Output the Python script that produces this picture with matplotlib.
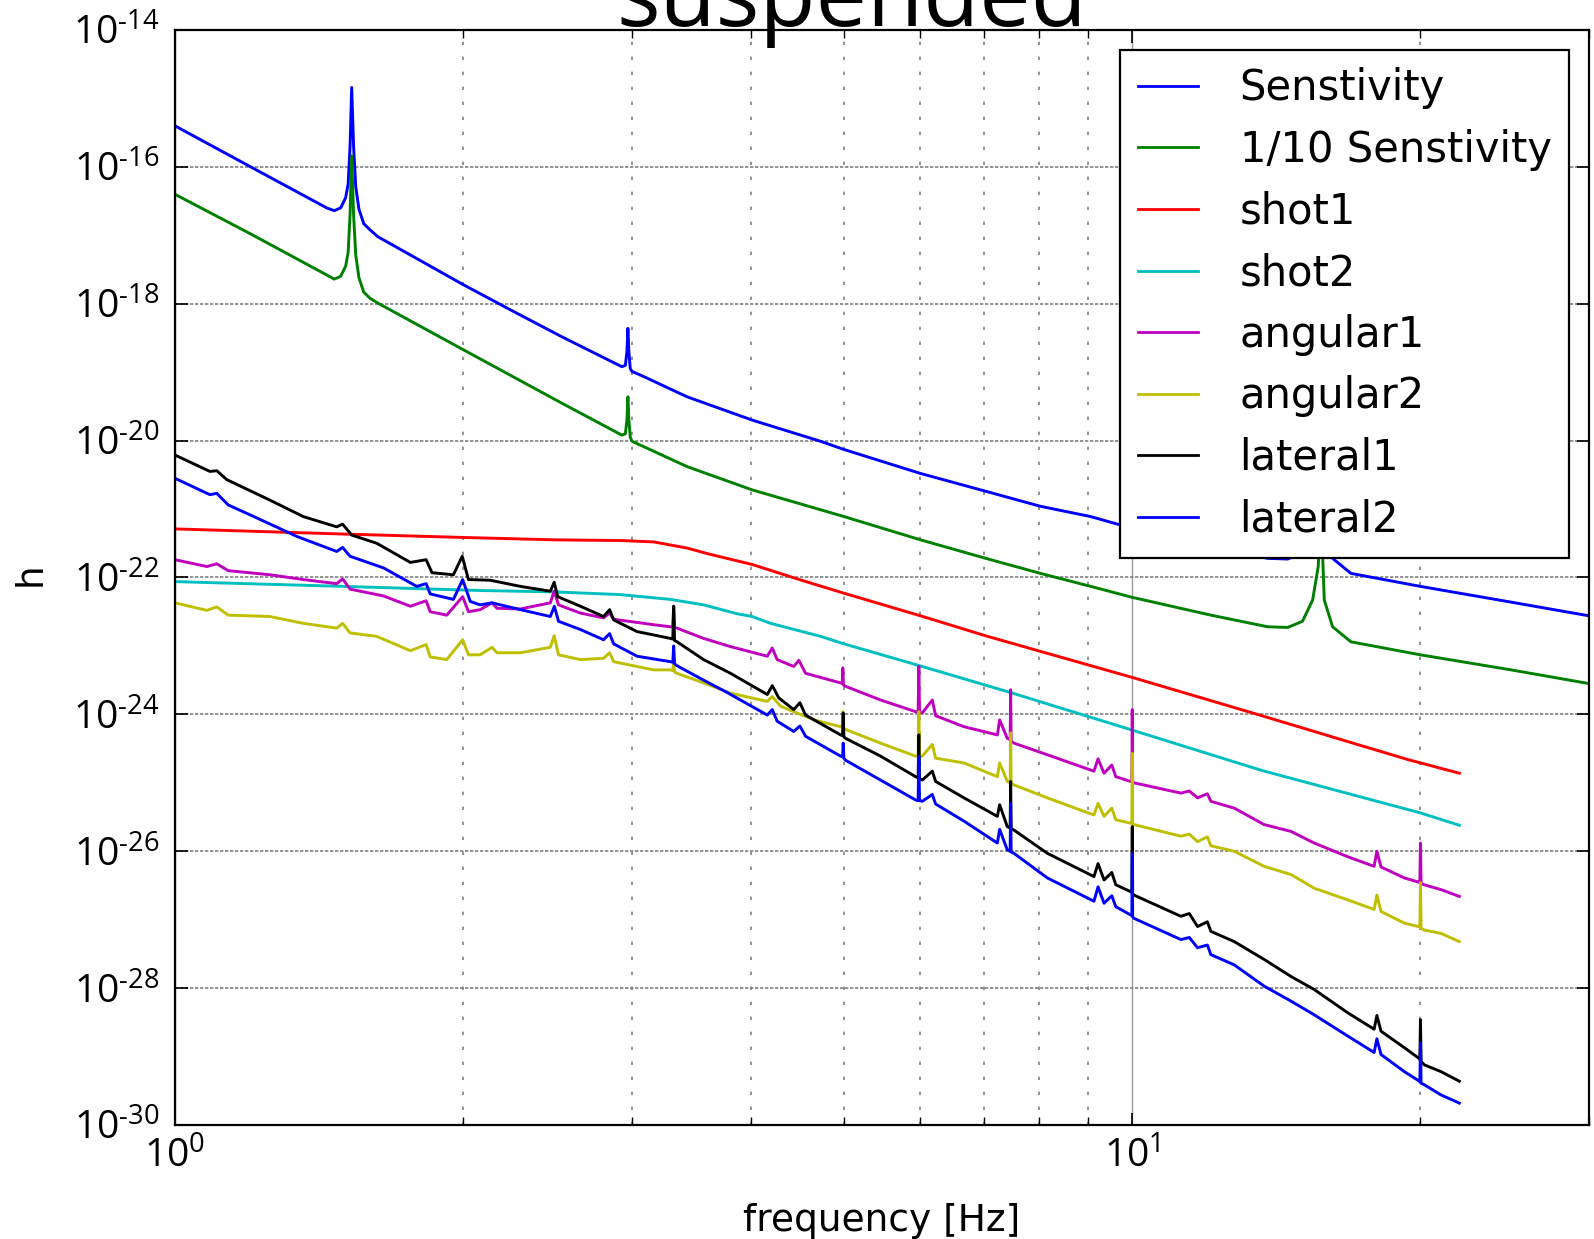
import numpy as np
import matplotlib
matplotlib.use("Agg")
import matplotlib.pyplot as plt
from matplotlib.ticker import LogLocator, NullFormatter, FixedLocator, FixedFormatter

# ---------------- data: (frequency [Hz], log10 h) ----------------
sensitivity = [(1.000,-15.40),(1.200,-16.00),(1.441,-16.60),(1.467,-16.64),(1.490,-16.60),(1.508,-16.45),
    (1.517,-16.25),(1.524,-15.70),(1.530,-14.84),(1.537,-15.70),(1.545,-16.29),(1.557,-16.62),(1.575,-16.83),
    (1.599,-16.92),(1.629,-17.02),(2.000,-17.72),(2.242,-18.09),(2.534,-18.48),(2.930,-18.92),(2.955,-18.90),
    (2.966,-18.70),(2.973,-18.36),(2.980,-18.70),(2.990,-18.95),(3.003,-18.99),(3.084,-19.06),(3.428,-19.36),
    (4.009,-19.70),(4.726,-20.01),(5.000,-20.13),(6.010,-20.48),(7.030,-20.74),(8.020,-20.96),(9.050,-21.11),
    (9.535,-21.20),(10.00,-21.28),(12.08,-21.55),(13.85,-21.72),(14.53,-21.73),(15.06,-21.64),(15.43,-21.33),
    (15.64,-20.84),(15.74,-20.00),(15.87,-21.33),(16.19,-21.72),(16.92,-21.94),(20.00,-22.13),(24.87,-22.36),
    (30.00,-22.56)]

tenth_sensitivity = [(1.000,-16.40),(1.200,-16.98),(1.441,-17.58),(1.467,-17.64),(1.490,-17.60),(1.508,-17.45),
    (1.517,-17.25),(1.524,-16.70),(1.530,-15.84),(1.537,-16.70),(1.545,-17.29),(1.557,-17.62),(1.575,-17.83),
    (1.599,-17.92),(1.629,-17.99),(2.000,-18.67),(2.534,-19.45),(2.930,-19.92),(2.955,-19.90),(2.966,-19.70),
    (2.973,-19.36),(2.980,-19.70),(2.990,-19.95),(3.003,-20.01),(3.428,-20.38),(4.009,-20.72),(5.000,-21.11),
    (6.010,-21.45),(7.030,-21.72),(8.020,-21.94),(9.050,-22.13),(10.00,-22.29),(12.08,-22.55),(13.85,-22.72),
    (14.53,-22.73),(15.06,-22.64),(15.43,-22.33),(15.64,-21.84),(15.74,-21.00),(15.87,-22.33),(16.19,-22.72),
    (16.92,-22.94),(20.00,-23.13),(24.87,-23.35),(30.00,-23.55)]

shot1 = [(1.0,-21.29),(1.5,-21.365),(2.0,-21.415),(2.5,-21.45),(2.92,-21.46),(3.163,-21.48),(3.428,-21.57),
    (3.62,-21.66),(4.009,-21.81),(4.49,-22.03),(5.0,-22.23),(6.01,-22.56),(7.06,-22.86),(10.0,-23.46),
    (13.66,-24.02),(17.0,-24.42),(19.4,-24.66),(21.96,-24.86)]

shot2 = [(1.0,-22.06),(1.5,-22.13),(2.084,-22.19),(2.488,-22.21),(2.92,-22.25),(3.293,-22.32),(3.567,-22.40),
    (3.867,-22.53),(4.009,-22.57),(4.19,-22.67),(4.726,-22.86),(5.0,-22.97),(6.0,-23.29),(7.5,-23.69),
    (10.0,-24.23),(13.66,-24.82),(20.0,-25.44),(21.96,-25.62)]

angular1 = [(1.000,-21.74),(1.080,-21.84),(1.106,-21.80),(1.137,-21.90),(1.257,-21.96),(1.362,-22.03),
    (1.476,-22.09),(1.497,-22.02),(1.524,-22.17),(1.652,-22.27),(1.762,-22.42),(1.830,-22.34),(1.848,-22.50),
    (1.923,-22.55),(1.998,-22.28),(2.026,-22.50),(2.084,-22.47),(2.144,-22.37),(2.170,-22.45),(2.296,-22.46),
    (2.467,-22.37),(2.490,-22.20),(2.516,-22.40),(2.652,-22.52),(2.804,-22.59),(2.845,-22.52),(2.873,-22.61),
    (3.163,-22.69),(3.293,-22.72),(3.312,-22.72),(3.319,-22.42),(3.326,-22.73),(3.346,-22.74),(3.567,-22.89),
    (3.805,-23.01),(4.157,-23.15),(4.207,-23.03),(4.257,-23.20),(4.430,-23.30),(4.485,-23.21),(4.558,-23.40),
    (4.958,-23.54),(4.978,-23.55),(4.985,-23.32),(4.993,-23.57),(5.018,-23.59),(5.459,-23.79),(5.938,-23.96),
    (5.975,-23.97),(5.985,-23.30),(5.995,-23.97),(6.035,-23.98),(6.182,-23.79),(6.232,-24.02),(6.672,-24.18),
    (7.229,-24.30),(7.269,-24.08),(7.404,-24.35),(7.455,-24.37),(7.464,-23.64),(7.473,-24.39),(7.523,-24.42),
    (8.153,-24.59),(9.120,-24.83),(9.210,-24.65),(9.344,-24.86),(9.519,-24.74),(9.612,-24.91),(9.960,-24.98),
    (9.990,-24.98),(10.00,-23.93),(10.01,-24.99),(10.04,-25.00),(11.24,-25.15),(11.47,-25.12),(11.70,-25.22),
    (11.98,-25.16),(12.08,-25.27),(12.78,-25.37),(13.73,-25.61),(14.65,-25.71),(15.49,-25.88),(16.79,-26.08),
    (17.89,-26.22),(18.01,-26.00),(18.19,-26.23),(19.24,-26.39),(19.90,-26.45),(19.97,-26.46),(20.00,-25.88),
    (20.03,-26.47),(20.18,-26.49),(21.01,-26.56),(21.96,-26.66)]

angular2 = [(1.000,-22.37),(1.080,-22.48),(1.106,-22.43),(1.137,-22.55),(1.257,-22.57),(1.362,-22.67),
    (1.476,-22.74),(1.497,-22.67),(1.524,-22.81),(1.625,-22.86),(1.762,-23.07),(1.830,-22.98),(1.848,-23.16),
    (1.923,-23.20),(1.998,-22.91),(2.026,-23.13),(2.084,-23.13),(2.144,-23.02),(2.170,-23.10),(2.296,-23.10),
    (2.467,-23.02),(2.490,-22.85),(2.516,-23.13),(2.652,-23.20),(2.804,-23.18),(2.845,-23.10),(2.873,-23.23),
    (3.163,-23.35),(3.293,-23.35),(3.312,-23.36),(3.319,-23.23),(3.326,-23.38),(3.346,-23.40),(3.567,-23.54),
    (3.805,-23.69),(4.157,-23.81),(4.207,-23.74),(4.292,-23.88),(4.430,-23.96),(4.650,-24.08),(4.958,-24.18),
    (4.978,-24.19),(4.985,-23.96),(4.993,-24.21),(5.018,-24.22),(5.459,-24.42),(5.938,-24.61),(5.975,-24.61),
    (5.985,-23.96),(5.995,-24.61),(6.035,-24.61),(6.182,-24.44),(6.232,-24.64),(6.672,-24.71),(7.229,-24.91),
    (7.269,-24.71),(7.404,-24.98),(7.455,-25.00),(7.464,-24.27),(7.473,-25.01),(7.523,-25.03),(8.153,-25.22),
    (9.120,-25.47),(9.210,-25.30),(9.344,-25.49),(9.519,-25.37),(9.612,-25.54),(9.960,-25.59),(9.990,-25.59),
    (10.00,-24.57),(10.01,-25.60),(10.04,-25.61),(11.24,-25.78),(11.47,-25.75),(11.70,-25.86),(11.98,-25.79),
    (12.08,-25.92),(12.78,-26.00),(13.73,-26.22),(14.65,-26.34),(15.49,-26.54),(16.79,-26.71),(17.89,-26.85),
    (18.01,-26.64),(18.19,-26.88),(19.24,-27.05),(19.90,-27.10),(19.97,-27.11),(20.00,-26.46),(20.03,-27.13),
    (20.18,-27.15),(21.01,-27.20),(21.96,-27.32)]

lateral1 = [(1.000,-20.21),(1.088,-20.45),(1.106,-20.44),(1.133,-20.57),(1.257,-20.87),(1.362,-21.11),
    (1.476,-21.26),(1.497,-21.22),(1.530,-21.38),(1.625,-21.50),(1.762,-21.78),(1.830,-21.74),(1.856,-21.93),
    (1.954,-21.96),(1.996,-21.69),(2.026,-22.03),(2.135,-22.04),(2.296,-22.13),(2.467,-22.20),(2.490,-22.07),
    (2.511,-22.28),(2.652,-22.42),(2.804,-22.57),(2.845,-22.47),(2.873,-22.62),(3.039,-22.79),(3.293,-22.89),
    (3.312,-22.90),(3.319,-22.42),(3.326,-22.92),(3.346,-22.94),(3.567,-23.20),(3.805,-23.40),(4.157,-23.71),
    (4.207,-23.58),(4.274,-23.76),(4.430,-23.93),(4.496,-23.83),(4.558,-24.01),(4.958,-24.30),(4.982,-24.31),
    (4.990,-23.98),(4.998,-24.33),(5.018,-24.35),(5.459,-24.61),(5.938,-24.91),(5.975,-24.93),(5.985,-24.30),
    (5.995,-24.94),(6.035,-24.96),(6.182,-24.83),(6.232,-24.98),(6.672,-25.22),(7.229,-25.49),(7.269,-25.32),
    (7.404,-25.64),(7.455,-25.66),(7.464,-24.98),(7.473,-25.67),(7.523,-25.69),(8.153,-26.03),(9.120,-26.37),
    (9.210,-26.18),(9.344,-26.42),(9.519,-26.31),(9.612,-26.49),(9.960,-26.59),(9.990,-26.60),(10.00,-25.64),
    (10.01,-26.62),(10.04,-26.64),(11.24,-26.95),(11.47,-26.91),(11.70,-27.10),(11.98,-27.03),(12.08,-27.17),
    (12.78,-27.32),(13.73,-27.58),(14.65,-27.83),(15.49,-28.02),(16.79,-28.36),(17.89,-28.60),(18.01,-28.40),
    (18.19,-28.63),(19.24,-28.87),(19.90,-29.02),(19.97,-29.04),(20.00,-28.46),(20.03,-29.07),(20.18,-29.12),
    (21.01,-29.22),(21.96,-29.36)]

lateral2 = [(1.000,-20.55),(1.088,-20.79),(1.106,-20.77),(1.137,-20.94),(1.218,-21.13),(1.341,-21.40),
    (1.476,-21.62),(1.497,-21.56),(1.524,-21.69),(1.652,-21.86),(1.789,-22.13),(1.830,-22.09),(1.848,-22.24),
    (1.954,-22.32),(1.998,-22.03),(2.035,-22.35),(2.084,-22.40),(2.144,-22.37),(2.296,-22.47),(2.467,-22.57),
    (2.491,-22.42),(2.516,-22.64),(2.652,-22.76),(2.804,-22.91),(2.845,-22.82),(2.873,-22.97),(3.039,-23.15),
    (3.293,-23.23),(3.312,-23.24),(3.319,-23.00),(3.326,-23.26),(3.346,-23.29),(3.567,-23.50),(3.774,-23.68),
    (4.157,-24.01),(4.207,-23.93),(4.257,-24.10),(4.430,-24.25),(4.496,-24.17),(4.558,-24.32),(4.958,-24.61),
    (4.982,-24.62),(4.990,-24.42),(4.998,-24.64),(5.018,-24.67),(5.459,-24.96),(5.938,-25.25),(5.975,-25.26),
    (5.985,-24.61),(5.995,-25.26),(6.035,-25.27),(6.182,-25.17),(6.232,-25.31),(6.672,-25.56),(7.229,-25.88),
    (7.269,-25.68),(7.404,-25.98),(7.455,-26.00),(7.464,-25.30),(7.473,-26.01),(7.523,-26.03),(8.153,-26.39),
    (9.120,-26.73),(9.210,-26.52),(9.344,-26.76),(9.519,-26.65),(9.612,-26.81),(9.960,-26.93),(9.990,-26.94),
    (10.00,-26.03),(10.01,-26.96),(10.04,-26.98),(11.24,-27.29),(11.47,-27.26),(11.70,-27.41),(11.98,-27.37),
    (12.08,-27.51),(12.78,-27.66),(13.73,-27.97),(14.65,-28.19),(15.49,-28.39),(16.79,-28.70),(17.89,-28.94),
    (18.01,-28.74),(18.19,-28.97),(19.24,-29.22),(19.90,-29.35),(19.97,-29.37),(20.00,-28.80),(20.03,-29.39),
    (20.18,-29.41),(21.01,-29.56),(21.96,-29.68)]

series_labels = ["Senstivity", "1/10 Senstivity", "shot1", "shot2",
                 "angular1", "angular2", "lateral1", "lateral2"]
series_data = [sensitivity, tenth_sensitivity, shot1, shot2,
               angular1, angular2, lateral1, lateral2]
series_colors = [(0, 0, 1), (0, 0.5, 0), (1, 0, 0), (0, 0.75, 0.75),
                 (0.75, 0, 0.75), (0.75, 0.75, 0), (0, 0, 0), (0, 0, 1)]

ytick_exponents = [-30, -28, -26, -24, -22, -20, -18, -16, -14]
xtick_exponents = [0, 1]

# ---------------- figure ----------------
fig = plt.figure(figsize=(15.94, 12.39), dpi=100)
ax = fig.add_axes([0.1097, 0.092, 0.8872, 0.8838])

for pairs, lab, col in zip(series_data, series_labels, series_colors):
    f = np.array([p[0] for p in pairs])
    h = 10.0 ** np.array([p[1] for p in pairs])
    ax.plot(f, h, color=col, lw=2.1, label=lab)

ax.set_xscale("log")
ax.set_yscale("log")
ax.set_xlim(1, 30)
ax.set_ylim(1e-30, 1e-14)


def exp_label(e):
    s = str(e).replace("-", "\u2010")
    return r"$\mathregular{10^{%s}}$" % s


tick_font = "Open Sans"
ax.yaxis.set_major_locator(FixedLocator([10.0 ** e for e in ytick_exponents]))
ax.yaxis.set_major_formatter(FixedFormatter([exp_label(e) for e in ytick_exponents]))
ax.yaxis.set_minor_locator(FixedLocator([]))
ax.xaxis.set_major_locator(FixedLocator([10.0 ** e for e in xtick_exponents]))
ax.xaxis.set_major_formatter(FixedFormatter([exp_label(e) for e in xtick_exponents]))
ax.xaxis.set_minor_locator(LogLocator(base=10, subs=np.arange(2, 10), numticks=20))
ax.xaxis.set_minor_formatter(NullFormatter())

for lab in ax.get_xticklabels() + ax.get_yticklabels():
    lab.set_fontfamily(tick_font)
    lab.set_fontsize(28)

ax.tick_params(which="both", direction="in", top=True, right=True, colors="black")
ax.tick_params(which="major", length=9, width=1.2)
ax.tick_params(which="minor", length=5.5, width=1.0)
ax.tick_params(axis="y", which="major", pad=11)
ax.tick_params(axis="x", which="major", pad=9)

ax.grid(True, which="major", axis="y", color="0.5", linestyle=(0, (2, 1)), linewidth=1.2)
ax.grid(True, which="major", axis="x", color="0.6", linestyle="-", linewidth=1.0)
ax.grid(True, which="minor", axis="x", color="0.5", linestyle=(0, (2, 7)), linewidth=1.2)

for sp in ax.spines.values():
    sp.set_linewidth(1.6)
    sp.set_color("black")

ax.set_xlabel("frequency [Hz]", fontsize=27, family="DejaVu Sans")
ax.xaxis.set_label_coords(0.5, -0.071)
ax.xaxis.label.set_va("top")
ax.set_ylabel("h", fontsize=27, family="DejaVu Sans")
ax.yaxis.set_label_coords(-0.089, 0.503)

leg = ax.legend(loc="upper right", prop={"family": "DejaVu Sans", "size": 30},
                handlelength=1.44, handletextpad=1.0, borderpad=0.42,
                labelspacing=0.47, borderaxespad=0.48, fancybox=False,
                framealpha=1.0, edgecolor="black")
leg.get_frame().set_linewidth(1.6)
for line in leg.get_lines():
    line.set_linewidth(2.0)

fig.text(0.5345, 0.979, "suspended", fontsize=66, family="Open Sans",
         ha="center", va="baseline")

fig.savefig("out.png", dpi=100)
